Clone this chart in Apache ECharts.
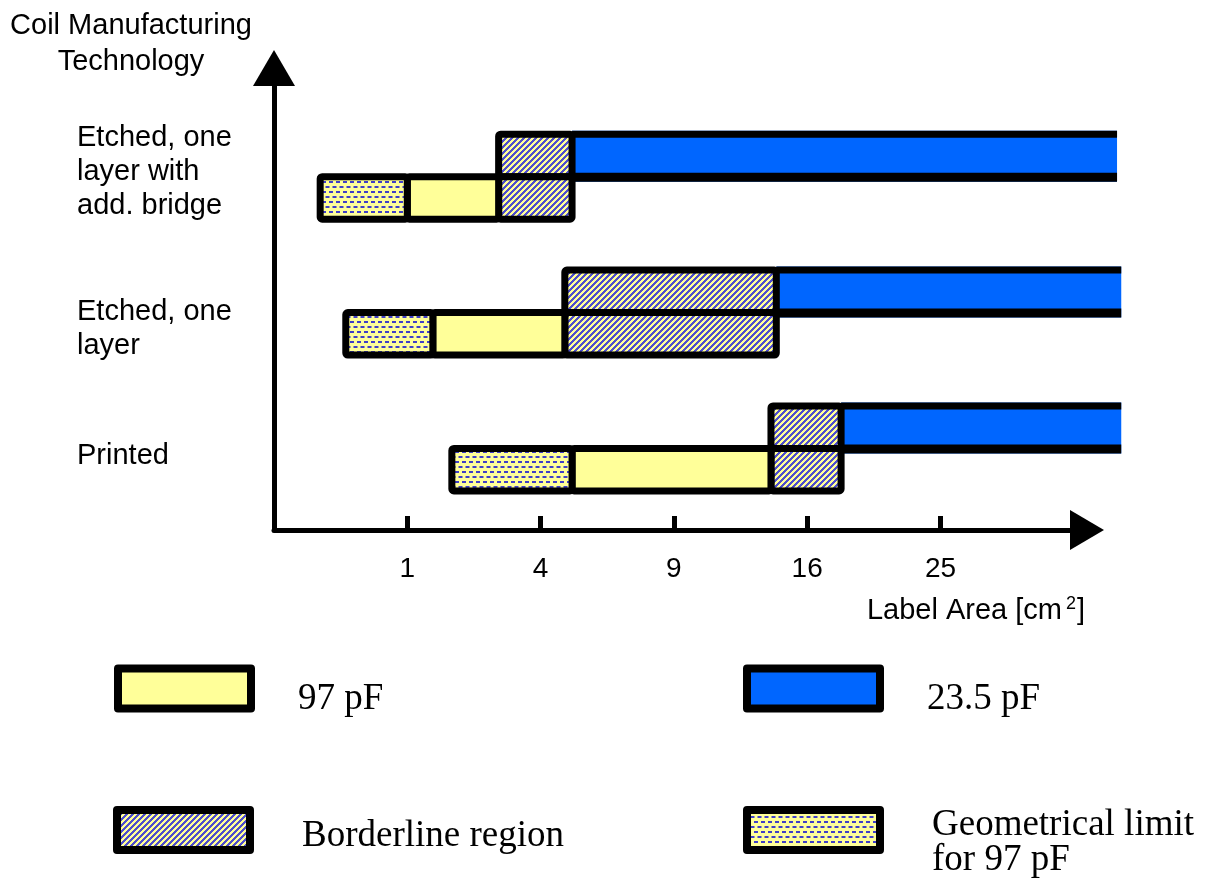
<!DOCTYPE html>
<html>
<head>
<meta charset="utf-8">
<title>Coil manufacturing technology vs label area</title>
<script src="https://cdn.jsdelivr.net/npm/echarts@6.0.0/dist/echarts.min.js"></script>
<style>
html, body { margin: 0; padding: 0; background: #fff; }
#chart { width: 1209px; height: 879px; }
</style>
</head>
<body>
<div id="chart"></div>
<script>
// rows, bottom to top
const categories = ['Printed', 'Etched, one\nlayer', 'Etched, one\nlayer with\nadd. bridge'];

// segment edges per row, label area in cm²
const geomFrom = [1.78, 0.29, 0.12];
const yellowFrom = [5.0, 1.42, 1.0];
const borderFrom = [13.9, 4.76, 2.84];
const blueFrom = [18.1, 14.2, 5.0];
const blueTo = [40.4, 40.4, 40.0];

const tickAreas = [1, 4, 9, 16, 25];
const axisEndArea = 37.2;

const seriesNames = ['97 pF', '23.5 pF', 'Borderline region', 'Geometrical limit\nfor 97 pF'];

const YELLOW = '#FFFF99';
const BLUE = '#0066FF';
const DOT = [64, 64, 200];
const BAND = 46;   // px height of one band
const EDGE = 7;    // px border width

// yellow with "/" blue stripes
function hatchPattern() {
    const c = document.createElement('canvas');
    c.width = 6; c.height = 6;
    const ctx = c.getContext('2d');
    const img = ctx.createImageData(6, 6);
    for (let y = 0; y < 6; y++) {
        for (let x = 0; x < 6; x++) {
            const k = (y * 6 + x) * 4;
            const blue = (x + y) % 6 < 3;
            img.data[k] = blue ? 78 : 255;
            img.data[k + 1] = blue ? 78 : 255;
            img.data[k + 2] = blue ? 205 : 153;
            img.data[k + 3] = 255;
        }
    }
    ctx.putImageData(img, 0, 0);
    return { image: c, repeat: 'repeat' };
}

// yellow with small staggered blue dashes
function dotPattern() {
    const c = document.createElement('canvas');
    c.width = 7; c.height = 10;
    const ctx = c.getContext('2d');
    ctx.fillStyle = YELLOW;
    ctx.fillRect(0, 0, 7, 10);
    ctx.fillStyle = 'rgb(' + DOT.join(',') + ')';
    ctx.fillRect(0, 1, 4, 2);
    ctx.fillRect(3.5, 6, 4, 2);
    ctx.fillRect(-3.5, 6, 4, 2);
    return { image: c, repeat: 'repeat' };
}

const HATCH = hatchPattern();
const DOTS = dotPattern();

function ends(api) {
    const row = api.value(2);
    const a = api.coord([api.value(0), row]);
    const b = api.coord([api.value(1), row]);
    return { x0: a[0], x1: b[0], c: a[1] };
}

function box(x0, x1, top, fill) {
    return {
        type: 'rect',
        shape: { x: x0, y: top, width: x1 - x0, height: BAND - EDGE / 2, r: 2 },
        style: { fill: fill, stroke: '#000', lineWidth: EDGE, lineJoin: 'round' }
    };
}

function lowerBox(fill) {
    return function (params, api) {
        const e = ends(api);
        return box(e.x0, e.x1, e.c, fill);
    };
}

function renderBorder(params, api) {
    const e = ends(api);
    return {
        type: 'group',
        children: [
            box(e.x0, e.x1, e.c - BAND + EDGE / 2, HATCH),
            box(e.x0, e.x1, e.c, HATCH)
        ]
    };
}

function renderBlue(params, api) {
    const e = ends(api);
    const w = e.x1 - e.x0;
    return {
        type: 'group',
        children: [
            { type: 'rect', shape: { x: e.x0, y: e.c - BAND, width: w, height: BAND + 5 }, style: { fill: BLUE } },
            { type: 'rect', shape: { x: e.x0, y: e.c - BAND, width: w, height: 7 }, style: { fill: '#000' } },
            { type: 'rect', shape: { x: e.x0, y: e.c - 4, width: w, height: 9 }, style: { fill: '#000' } }
        ]
    };
}

function segments(from, to) {
    return categories.map((_, i) => [Math.sqrt(from[i]), Math.sqrt(to[i]), i + 1]);
}

// vertical nudge of each row label (px)
const labelShift = [8, 16, -5];

function rowLabel(v) {
    const i = Math.round(v) - 1;
    const lines = categories[i].split('\n').map(s => '{t|' + s + '}');
    if (labelShift[i] > 0) lines.unshift('{g' + i + '| }');
    else lines.push('{g' + i + '| }');
    return lines.join('\n');
}

const SANS = '"Liberation Sans", Arial, sans-serif';
const SERIF = '"Liberation Serif", "Times New Roman", serif';

// legend text, pushed down by an empty line of height gap
function legendAt(name, left, top, fill, padLeft, gap) {
    return {
        data: [{ name: name, itemStyle: { color: fill, borderColor: '#000', borderWidth: 8, borderJoin: 'round' } }],
        left: left,
        top: top,
        padding: 0,
        selectedMode: false,
        icon: 'rect',
        itemWidth: 133,
        itemHeight: 40,
        formatter: n => '{g| }\n' + n.split('\n').map(s => '{t|' + s + '}').join('\n'),
        textStyle: {
            fontFamily: SERIF, fontSize: 37, color: '#000', padding: [0, 0, 0, padLeft],
            rich: {
                t: { fontFamily: SERIF, fontSize: 37, lineHeight: 35, color: '#000' },
                g: { fontSize: 4, lineHeight: gap }
            }
        }
    };
}

const chart = echarts.init(document.getElementById('chart'));

chart.setOption({
    animation: false,
    textStyle: { fontFamily: SANS },
    grid: { left: 274, top: 68, width: 813, height: 462, outerBoundsMode: 'none' },
    xAxis: {
        type: 'value',
        min: 0,
        max: Math.sqrt(axisEndArea),
        name: '{a|Label Area [cm}{s|2}{a|]}',
        nameLocation: 'end',
        nameGap: -2,
        nameTextStyle: {
            align: 'right',
            verticalAlign: 'middle',
            padding: [162, 0, 0, 0],
            rich: {
                a: { fontFamily: SANS, fontSize: 29, lineHeight: 32, color: '#000' },
                s: { fontFamily: SANS, fontSize: 18, lineHeight: 32, color: '#000', verticalAlign: 'top', padding: [0, 1, 0, 4] }
            }
        },
        splitLine: { show: false },
        axisLine: { show: true, lineStyle: { color: '#000', width: 5 }, symbol: ['none', 'triangle'], symbolSize: [40, 34] },
        axisTick: { show: true, inside: true, length: 14, lineStyle: { color: '#000', width: 5 }, customValues: tickAreas.map(Math.sqrt) },
        axisLabel: {
            customValues: tickAreas.map(Math.sqrt),
            formatter: v => String(Math.round(v * v)),
            fontFamily: SANS, fontSize: 28, color: '#000', margin: 25
        }
    },
    yAxis: {
        type: 'value',
        min: 0.4,
        max: 3.8,
        name: 'Coil Manufacturing\nTechnology',
        nameLocation: 'end',
        nameGap: 24,
        nameTextStyle: {
            fontFamily: SANS, fontSize: 29, lineHeight: 36, color: '#000',
            align: 'center', verticalAlign: 'middle', padding: [0, 286, 0, 0]
        },
        splitLine: { show: false },
        axisLine: { show: true, lineStyle: { color: '#000', width: 5 }, symbol: ['none', 'triangle'], symbolSize: [42, 36] },
        axisTick: { show: false },
        axisLabel: {
            customValues: [1, 2, 3],
            formatter: rowLabel,
            align: 'left',
            margin: 197,
            fontFamily: SANS, fontSize: 29, lineHeight: 34, color: '#000',
            rich: {
                t: { fontFamily: SANS, fontSize: 29, lineHeight: 34, color: '#000' },
                g0: { fontSize: 4, lineHeight: 16 },
                g1: { fontSize: 4, lineHeight: 32 },
                g2: { fontSize: 4, lineHeight: 10 }
            }
        }
    },
    legend: [
        legendAt(seriesNames[0], 114, 664.5, YELLOW, 42, 22),
        legendAt(seriesNames[1], 743, 664.5, BLUE, 42, 22),
        legendAt(seriesNames[2], 113, 806, HATCH, 47, 13),
        legendAt(seriesNames[3], 743, 793, DOTS, 47, 26)
    ],
    series: [
        {
            type: 'custom', name: seriesNames[1], silent: true,
            itemStyle: { color: BLUE },
            renderItem: renderBlue, encode: { x: [0, 1], y: 2 },
            data: segments(blueFrom, blueTo)
        },
        {
            type: 'custom', name: seriesNames[2], silent: true,
            itemStyle: { color: HATCH },
            renderItem: renderBorder, encode: { x: [0, 1], y: 2 },
            data: segments(borderFrom, blueFrom)
        },
        {
            type: 'custom', name: seriesNames[0], silent: true,
            itemStyle: { color: YELLOW },
            renderItem: lowerBox(YELLOW), encode: { x: [0, 1], y: 2 },
            data: segments(yellowFrom, borderFrom)
        },
        {
            type: 'custom', name: seriesNames[3], silent: true,
            itemStyle: { color: DOTS },
            renderItem: lowerBox(DOTS), encode: { x: [0, 1], y: 2 },
            data: segments(geomFrom, yellowFrom)
        }
    ]
});

window.addEventListener('resize', function () {
    chart.resize();
});
</script>
</body>
</html>
